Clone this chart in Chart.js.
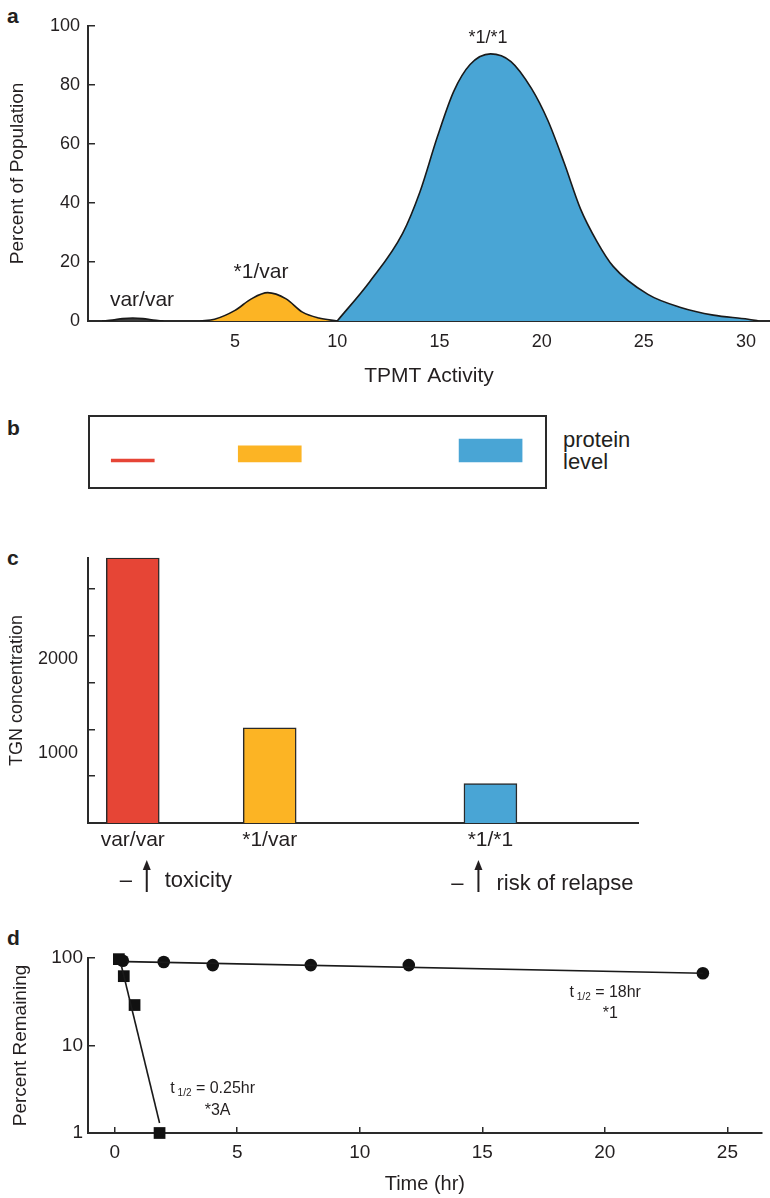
<!DOCTYPE html>
<html>
<head>
<meta charset="utf-8">
<script src="https://cdn.jsdelivr.net/npm/chart.js@4.4.1/dist/chart.umd.min.js"></script>
<style>
  body { margin: 0; background: #fff; width: 770px; height: 1198px; position: relative; overflow: hidden;
         font-family: 'Liberation Sans', Arial, sans-serif; color: #231f20; }
  canvas { position: absolute; left: 0; }
  .tag { position: absolute; left: 7px; font-weight: bold; font-size: 21px; line-height: 24px; }
  .side { position: absolute; left: 563px; top: 429px; font-size: 22px; line-height: 22px; }
</style>
</head>
<body>
<div class="tag" style="top:4px">a</div>
<div class="tag" style="top:416px">b</div>
<div class="tag" style="top:546px">c</div>
<div class="tag" style="top:926px">d</div>
<div class="side">protein<br>level</div>

<canvas id="chartA" width="770" height="400" style="top:0"></canvas>
<canvas id="chartB" width="770" height="100" style="top:400px"></canvas>
<canvas id="chartC" width="770" height="375" style="top:530px"></canvas>
<canvas id="chartD" width="770" height="293" style="top:905px"></canvas>

<script>
// genotypes, shared by panels a-c
const genotypes = ['var/var', '*1/var', '*1/*1'];
const genotypeColors = ['#e64536', '#fcb424', '#49a5d5'];
const modeActivity = [0, 6.7, 17.5];   // peak of each genotype on the TPMT activity axis

// a: population distribution of TPMT activity
const activityTicks = [5, 10, 15, 20, 25, 30];
const percentTicks = [0, 20, 40, 60, 80, 100];
const varVarAct = [-1.5, -1, -0.5, 0, 0.5, 1, 1.5];
const varVarPct = [0, 0.3, 0.8, 1, 0.8, 0.3, 0];
const hetAct = [3.3, 4, 5, 5.8, 6.6, 7.5, 8.3, 9.1, 10];
const hetPct = [0, 0.6, 3.6, 7.5, 9.6, 7.5, 3, 1, 0];
const wtAct = [10, 11.6, 13.2, 14.05, 14.9, 15.7, 16.5, 17.5, 18.5, 19.5, 20.3, 21.1, 21.9, 22.7, 23.5, 25.2, 26.8, 28.4, 30.1, 30.6];
const wtPct = [0, 13.4, 29.7, 43.8, 62.4, 77.8, 86.9, 90.5, 87.9, 78.8, 68, 53.6, 38, 27, 18.5, 9.0, 4.6, 2, 0.6, 0];

// b: protein level
const proteinLevel = [0.13, 0.7, 1.0];

// c: TGN concentration
const tgnValues = [3080, 1265, 670];
const tgnTickLabels = [1000, 2000];
const tgnTickMarks = [750, 1250, 1750, 2250, 2750];

// d: protein degradation
const timeTicks = [0, 5, 10, 15, 20, 25];
const remainTicks = [1, 10, 100];
const star1Hours = [0.33, 2, 4, 8, 12, 24];
const star1Remain = [93, 90, 83, 83, 83, 67];
const star3AHours = [0.17, 0.37, 0.81, 1.83];
const star3ARemain = [97, 62, 29, 1];
const star1FitHours = [0.5, 24];
const star1FitRemain = [91, 67];
const star3AFitHours = [0.28, 1.83];
const star3AFitRemain = [80, 1.3];

const family = "'Liberation Sans', Arial, sans-serif";
const ink = '#231f20';
const axisColor = '#2a2a2a';
Chart.defaults.font.family = family;
Chart.defaults.color = ink;
Chart.defaults.animation = false;
Chart.defaults.responsive = false;
Chart.defaults.plugins.legend.display = false;
Chart.defaults.plugins.tooltip.enabled = false;

const pts = (xs, ys) => xs.map((x, i) => ({ x: x, y: ys[i] }));
const fixTicks = vals => s => { s.ticks = vals.map(v => ({ value: v })); };

// text placed at data coordinates, runs allow the t1/2 subscript
function notes(items) {
  return {
    id: 'notes',
    afterDatasetsDraw(chart) {
      const { ctx, scales } = chart;
      items.forEach(n => {
        let px = scales.x.getPixelForValue(n.x);
        const py = scales.y.getPixelForValue(n.y);
        const runs = n.runs || [{ text: n.text, size: n.size }];
        ctx.save();
        ctx.fillStyle = ink;
        ctx.textAlign = 'left';
        ctx.textBaseline = 'alphabetic';
        let w = 0;
        runs.forEach(r => { ctx.font = r.size + 'px ' + family; w += ctx.measureText(r.text).width; });
        if (n.align === 'center') px -= w / 2;
        runs.forEach(r => {
          ctx.font = r.size + 'px ' + family;
          ctx.fillText(r.text, px, py + (r.dy || 0));
          px += ctx.measureText(r.text).width;
        });
        ctx.restore();
      });
    }
  };
}

const linearAxis = (min, max) => ({ type: 'linear', min: min, max: max, offset: false });

// ---------- a ----------
new Chart(document.getElementById('chartA'), {
  type: 'line',
  data: {
    datasets: [
      { data: pts(varVarAct, varVarPct), backgroundColor: '#3a3a3a' },
      { data: pts(hetAct, hetPct), backgroundColor: genotypeColors[1] },
      { data: pts(wtAct, wtPct), backgroundColor: genotypeColors[2] }
    ].map(d => Object.assign(d, {
      fill: 'origin', borderColor: '#1a1a1a', borderWidth: 1.6, pointRadius: 0,
      cubicInterpolationMode: 'monotone'
    }))
  },
  options: {
    layout: { padding: { left: 0, top: 15, right: 0, bottom: 0 } },
    scales: {
      x: Object.assign(linearAxis(-2.19, 31.17), {
        afterFit: s => { s.height = 79; },
        afterBuildTicks: fixTicks(activityTicks),
        border: { color: axisColor, width: 2 },
        grid: { drawOnChartArea: false, drawTicks: false },
        ticks: { padding: 10, color: ink, font: { size: 18 }, maxRotation: 0 },
        title: { display: true, text: 'TPMT Activity', color: ink, font: { size: 21 }, padding: { top: 0, bottom: 11 } }
      }),
      y: {
        min: 0, max: 100,
        afterFit: s => { s.width = 88; },
        afterBuildTicks: fixTicks(percentTicks),
        border: { color: axisColor, width: 2 },
        grid: { drawOnChartArea: false, tickLength: -7, color: axisColor, lineWidth: 1.5 },
        ticks: { padding: 15, color: ink, font: { size: 18 } },
        title: { display: true, text: 'Percent of Population', color: ink, font: { size: 19 }, padding: { top: 6, bottom: 0 } }
      }
    }
  },
  plugins: [notes([
    { x: 0.45, y: 5.2, text: genotypes[0], size: 21, align: 'center' },
    { x: 6.27, y: 14.4, text: genotypes[1], size: 21, align: 'center' },
    { x: 17.38, y: 94.1, text: genotypes[2], size: 18, align: 'center' }
  ])]
});

// ---------- b ----------
new Chart(document.getElementById('chartB'), {
  type: 'bar',
  data: {
    datasets: genotypes.map((g, i) => ({
      label: g,
      data: [{ x: modeActivity[i], y: proteinLevel[i] }],
      backgroundColor: genotypeColors[i],
      borderWidth: 0,
      grouped: false,
      barThickness: i === 0 ? 43 : 63
    }))
  },
  options: {
    layout: { padding: { left: 89, top: 16, right: 224, bottom: 12 } },
    scales: {
      x: Object.assign(linearAxis(-2.14, 20.21), { display: false }),
      y: { min: -1.13, max: 2.0, display: false }
    }
  },
  plugins: [{
    id: 'frame',
    afterDraw(chart) {
      const { ctx, chartArea: a } = chart;
      ctx.save();
      ctx.strokeStyle = axisColor;
      ctx.lineWidth = 2;
      ctx.strokeRect(a.left, a.top, a.right - a.left, a.bottom - a.top);
      ctx.restore();
    }
  }]
});

// ---------- c ----------
const outcomes = [
  { label: 'toxicity', under: 0, dash: -7, arrow: 14, text: 32, base: 64 },
  { label: 'risk of relapse', under: 2, dash: -33, arrow: -12, text: 6, base: 67 }
];

new Chart(document.getElementById('chartC'), {
  type: 'bar',
  data: {
    datasets: [{
      data: pts(modeActivity, tgnValues),
      backgroundColor: genotypeColors,
      borderColor: '#2a2a2a',
      borderWidth: 1.5,
      barThickness: 53
    }]
  },
  options: {
    layout: { padding: { left: 0, top: 25, right: 132, bottom: 0 } },
    scales: {
      x: Object.assign(linearAxis(-2.19, 24.72), {
        afterFit: s => { s.height = 82; },
        afterBuildTicks: fixTicks(modeActivity),
        border: { color: axisColor, width: 2 },
        grid: { drawOnChartArea: false, drawTicks: false, offset: false },
        ticks: { padding: 5, color: ink, font: { size: 21 }, maxRotation: 0, autoSkip: false,
                 callback: (v, i) => genotypes[i] }
      }),
      y: {
        min: 250, max: 3080,
        afterFit: s => { s.width = 88; },
        afterBuildTicks: fixTicks(tgnTickMarks.concat(tgnTickLabels).sort((p, q) => p - q)),
        border: { color: axisColor, width: 2 },
        grid: {
          drawOnChartArea: false, tickLength: -7, lineWidth: 1.5,
          color: c => (c.tick && tgnTickMarks.includes(c.tick.value)) ? axisColor : 'rgba(0,0,0,0)'
        },
        ticks: { padding: 17, color: ink, font: { size: 18 },
                 callback: v => tgnTickLabels.includes(v) ? String(v) : '' },
        title: { display: true, text: 'TGN concentration', color: ink, font: { size: 18 }, padding: { top: 6, bottom: 0 } }
      }
    }
  },
  plugins: [{
    id: 'outcomes',
    afterDraw(chart) {
      const { ctx, chartArea, scales: { x } } = chart;
      const b = chartArea.bottom;
      ctx.save();
      ctx.fillStyle = ink;
      ctx.strokeStyle = ink;
      ctx.font = '22px ' + family;
      ctx.textBaseline = 'alphabetic';
      outcomes.forEach(o => {
        const cx = x.getPixelForValue(modeActivity[o.under]);
        ctx.textAlign = 'center';
        ctx.fillText('\u2013', cx + o.dash, b + o.base);
        const ax = cx + o.arrow;
        ctx.lineWidth = 2;
        ctx.beginPath();
        ctx.moveTo(ax, b + 69);
        ctx.lineTo(ax, b + 44);
        ctx.stroke();
        ctx.beginPath();
        ctx.moveTo(ax, b + 37);
        ctx.lineTo(ax - 4, b + 47);
        ctx.lineTo(ax + 4, b + 47);
        ctx.closePath();
        ctx.fill();
        ctx.textAlign = 'left';
        ctx.fillText(o.label, cx + o.text, b + o.base);
      });
      ctx.restore();
    }
  }]
});

// ---------- d ----------
const t12 = rest => [
  { text: 't', size: 16 },
  { text: ' 1/2', size: 10, dy: 3 },
  { text: ' = ' + rest, size: 16 }
];

new Chart(document.getElementById('chartD'), {
  type: 'scatter',
  data: {
    datasets: [
      { data: pts(star1FitHours, star1FitRemain), showLine: true, pointRadius: 0, borderColor: '#1a1a1a', borderWidth: 1.6 },
      { data: pts(star3AFitHours, star3AFitRemain), showLine: true, pointRadius: 0, borderColor: '#1a1a1a', borderWidth: 1.6 },
      { label: '*1', data: pts(star1Hours, star1Remain), pointStyle: 'circle', pointRadius: 6.3,
        backgroundColor: '#111', borderWidth: 0, clip: false },
      { label: '*3A', data: pts(star3AHours, star3ARemain), pointStyle: 'rect', pointRadius: 8.3,
        backgroundColor: '#111', borderWidth: 0, clip: false }
    ]
  },
  options: {
    layout: { padding: { left: 0, top: 53, right: 3, bottom: 0 } },
    scales: {
      x: Object.assign(linearAxis(-1.09, 26.4), {
        afterFit: s => { s.height = 65; },
        afterBuildTicks: fixTicks(timeTicks),
        border: { color: axisColor, width: 2 },
        grid: { drawOnChartArea: false, tickLength: -6, color: axisColor, lineWidth: 1.5 },
        ticks: { padding: 14, color: ink, font: { size: 19 }, maxRotation: 0 },
        title: { display: true, text: 'Time (hr)', color: ink, font: { size: 20 }, padding: { top: 0, bottom: 2 } }
      }),
      y: {
        type: 'logarithmic', min: 1, max: 100,
        afterFit: s => { s.width = 88; },
        afterBuildTicks: fixTicks(remainTicks),
        border: { color: axisColor, width: 2 },
        grid: { drawOnChartArea: false, tickLength: -7, color: axisColor, lineWidth: 1.5 },
        ticks: { padding: 12, color: ink, font: { size: 19 }, callback: v => String(v) },
        title: { display: true, text: 'Percent Remaining', color: ink, font: { size: 19 }, padding: { top: 9, bottom: 0 } }
      }
    }
  },
  plugins: [notes([
    { x: 2.27, y: 2.86, runs: t12('0.25hr') },
    { x: 4.2, y: 1.61, text: '*3A', size: 16, align: 'center' },
    { x: 18.56, y: 35.8, runs: t12('18hr') },
    { x: 20.22, y: 20.6, text: '*1', size: 16, align: 'center' }
  ])]
});
</script>
</body>
</html>
